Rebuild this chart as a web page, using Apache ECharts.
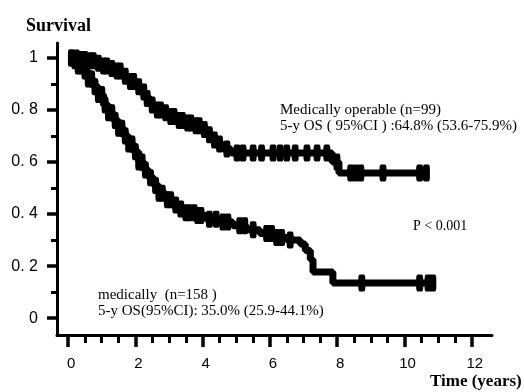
<!DOCTYPE html>
<html>
<head>
<meta charset="utf-8">
<script src="https://cdn.jsdelivr.net/npm/echarts@6/dist/echarts.min.js"></script>
<style>
html,body{margin:0;padding:0;background:#fff;}
#chart{width:524px;height:392px;}
</style>
</head>
<body>
<div id="chart"></div>
<script>
// ---- data ----
var xTicks = [0, 2, 4, 6, 8, 10, 12];
var xMinorTicks = [0.5, 1, 1.5, 2.5, 3, 3.5, 4.5, 5, 5.5, 6.5, 7, 7.5, 8.5, 9, 9.5, 10.5, 11, 11.5];
var yTicks = [0, 0.2, 0.4, 0.6, 0.8, 1];
var yTickLabels = ['0', '0. 2', '0. 4', '0. 6', '0. 8', '1'];
var yMinorTicks = [0.1, 0.3, 0.5, 0.7, 0.9];

// Medically operable (n=99): step points (time, survival)
var opTime = [0, 0.3, 0.6, 0.8, 1.0, 1.2, 1.4, 1.6, 1.8, 2.0, 2.15, 2.3, 2.45, 2.6, 2.8, 3.0, 3.2, 3.45, 3.7, 3.95, 4.15, 4.3, 4.45, 4.6, 4.85, 7.85, 8.05, 10.65];
var opSurv = [1.0, 0.995, 0.99, 0.98, 0.97, 0.96, 0.95, 0.93, 0.91, 0.89, 0.87, 0.845, 0.82, 0.80, 0.79, 0.775, 0.76, 0.75, 0.74, 0.725, 0.705, 0.685, 0.67, 0.65, 0.635, 0.60, 0.558, 0.558];
var opCensor = [0.1, 0.25, 0.4, 0.5, 0.65, 0.75, 0.9, 1.05, 1.15, 1.3, 1.45, 1.55, 1.7, 1.85, 1.95, 2.1, 2.25, 2.35, 2.5, 2.65, 2.75, 2.9, 3.05, 3.15, 3.3, 3.4, 3.55, 3.65, 3.8, 3.9, 4.05, 4.2, 4.35, 4.5, 4.72, 5.02, 5.2, 5.5, 5.75, 6.09, 6.3, 6.5, 6.75, 7.1, 7.4, 7.69, 7.99, 8.4, 8.55, 8.7, 9.36, 10.45, 10.65];

// Medically inoperable (n=158): step points (time, survival)
var inTime = [0, 0.15, 0.3, 0.45, 0.6, 0.75, 0.9, 1.05, 1.2, 1.35, 1.5, 1.65, 1.8, 1.95, 2.1, 2.25, 2.4, 2.55, 2.7, 2.9, 3.1, 3.3, 3.5, 3.8, 4.1, 4.5, 4.9, 5.3, 5.7, 6.1, 6.5, 6.9, 7.05, 7.2, 7.28, 7.87, 10.84];
var inSurv = [1.0, 0.99, 0.97, 0.95, 0.92, 0.89, 0.86, 0.82, 0.79, 0.76, 0.73, 0.70, 0.67, 0.64, 0.60, 0.57, 0.54, 0.51, 0.48, 0.455, 0.435, 0.42, 0.405, 0.395, 0.38, 0.37, 0.355, 0.34, 0.325, 0.31, 0.30, 0.285, 0.26, 0.225, 0.177, 0.135, 0.135];
var inCensor = [0.1, 0.2, 0.3, 0.4, 0.5, 0.6, 0.7, 0.8, 0.9, 1.0, 1.1, 1.2, 1.3, 1.4, 1.5, 1.6, 1.7, 1.8, 1.9, 2.0, 2.1, 2.2, 2.3, 2.45, 2.6, 2.7, 2.8, 2.95, 3.05, 3.2, 3.35, 3.5, 3.6, 3.75, 3.85, 3.95, 4.2, 4.4, 4.6, 4.75, 5.1, 5.25, 5.5, 5.9, 6.05, 6.2, 6.35, 6.6, 8.73, 10.45, 10.7, 10.84];

// ---- helpers ----
function stepAt(times, surv, t) {
  var v = surv[0];
  for (var i = 0; i < times.length; i++) { if (times[i] <= t) v = surv[i]; }
  return v;
}
function pairs(times, surv) { return times.map(function (t, i) { return [t, surv[i]]; }); }
function censorPts(ct, times, surv) { return ct.map(function (t) { return [t, stepAt(times, surv, t)]; }); }

var chart = echarts.init(document.getElementById('chart'), null, {renderer: 'canvas'});
var black = '#000';
var serif = '"Liberation Serif", "Times New Roman", serif';
var sans = '"Liberation Sans", Arial, sans-serif';

var option = {
  animation: false,
  backgroundColor: '#fff',
  grid: {left: 57, right: 32, top: 43, bottom: 57, containLabel: false},
  xAxis: [{
    type: 'value', min: -0.33, max: 12.6,
    axisLine: {show: true, onZero: false, lineStyle: {color: black, width: 3}},
    axisTick: {show: true, customValues: xTicks, length: 12, lineStyle: {color: black, width: 3.5}},
    axisLabel: {customValues: xTicks, color: black, fontFamily: sans, fontSize: 15, margin: 21, padding: [0, 0, 0, 6]},
    splitLine: {show: false}
  }, {
    type: 'value', min: -0.33, max: 12.6, position: 'bottom',
    axisLine: {show: false, onZero: false},
    axisTick: {show: true, customValues: xMinorTicks, length: 8, lineStyle: {color: black, width: 3}},
    axisLabel: {show: false},
    splitLine: {show: false}
  }],
  yAxis: [{
    type: 'value', min: -0.065, max: 1.058,
    axisLine: {show: true, onZero: false, lineStyle: {color: black, width: 3}},
    axisTick: {show: true, customValues: yTicks, length: 10, lineStyle: {color: black, width: 3.5}},
    axisLabel: {
      customValues: yTicks, color: black, fontFamily: sans, fontSize: 16, margin: 19, padding: [10, 0, 0, 0],
      formatter: function (v) { var i = yTicks.indexOf(v); return i >= 0 ? yTickLabels[i] : ''; }
    },
    splitLine: {show: false}
  }, {
    type: 'value', min: -0.065, max: 1.058, position: 'left',
    axisLine: {show: false, onZero: false},
    axisTick: {show: true, customValues: yMinorTicks, length: 6, lineStyle: {color: black, width: 3}},
    axisLabel: {show: false},
    splitLine: {show: false}
  }],
  series: [{
    type: 'line', step: 'end', data: pairs(opTime, opSurv), showSymbol: false, symbol: 'none',
    lineStyle: {color: black, width: 7}, xAxisIndex: 0, yAxisIndex: 0, z: 3
  }, {
    type: 'line', step: 'end', data: pairs(inTime, inSurv), showSymbol: false, symbol: 'none',
    lineStyle: {color: black, width: 7}, xAxisIndex: 0, yAxisIndex: 0, z: 3
  }, {
    type: 'scatter', data: censorPts(opCensor, opTime, opSurv), symbol: 'roundRect', symbolSize: [7, 17],
    itemStyle: {color: black, opacity: 1}, xAxisIndex: 0, yAxisIndex: 0, z: 4
  }, {
    type: 'scatter', data: censorPts(inCensor, inTime, inSurv), symbol: 'roundRect', symbolSize: [7, 17],
    itemStyle: {color: black, opacity: 1}, xAxisIndex: 0, yAxisIndex: 0, z: 4
  }],
  graphic: [
    {type: 'text', left: 26, top: 17, style: {text: 'Survival', font: 'bold 18px ' + serif, fill: black}},
    {type: 'text', left: 430, top: 373, style: {text: 'Time (years)', font: 'bold 17px ' + serif, fill: black}},
    {type: 'text', left: 280, top: 102, style: {text: 'Medically operable (n=99)\n5-y OS ( 95%CI ) :64.8% (53.6-75.9%)', font: '15px ' + serif, lineHeight: 16, fill: black}},
    {type: 'text', left: 98, top: 287, style: {text: 'medically  (n=158 )\n5-y OS(95%CI): 35.0% (25.9-44.1%)', font: '15px ' + serif, lineHeight: 16, fill: black}},
    {type: 'text', left: 413, top: 219, style: {text: 'P < 0.001', font: '14px ' + serif, fill: black}}
  ]
};
chart.setOption(option);
</script>
</body>
</html>
